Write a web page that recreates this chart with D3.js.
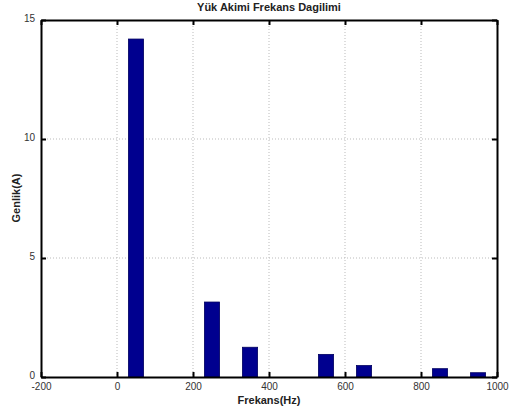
<!DOCTYPE html>
<html><head><meta charset="utf-8">
<script src="https://cdn.jsdelivr.net/npm/d3@7"></script>
<style>body{margin:0;background:#fff}svg{display:block}text{font-family:Arial,"Liberation Sans",sans-serif}</style>
</head><body><svg id="c" width="510" height="416"></svg>
<script>
const freqs = [50, 250, 350, 550, 650, 850, 950];
const amps = [14.2, 3.15, 1.25, 0.95, 0.48, 0.35, 0.18];
const xTicks = [-200, 0, 200, 400, 600, 800, 1000];
const yTicks = [0, 5, 10, 15];
const barWidthHz = 40;

const svg = d3.select("#c");
const L = 41, R = 497, T = 20, B = 377;
const x = d3.scaleLinear().domain([-200, 1000]).range([L, R]);
const y = d3.scaleLinear().domain([0, 15]).range([B, T]);

// grid
const g = svg.append("g");
g.selectAll(".vg").data(xTicks.slice(1, -1)).join("line")
  .attr("x1", d => x(d)).attr("x2", d => x(d)).attr("y1", T).attr("y2", B)
  .attr("stroke", "#bbb").attr("stroke-width", 1).attr("stroke-dasharray", "1,2");
g.selectAll(".hg").data(yTicks.slice(1, -1)).join("line")
  .attr("y1", d => y(d)).attr("y2", d => y(d)).attr("x1", L).attr("x2", R)
  .attr("stroke", "#bbb").attr("stroke-width", 1).attr("stroke-dasharray", "1,2");

// bars
svg.selectAll("rect.bar").data(freqs).join("rect").attr("class", "bar")
  .attr("x", d => x(d - barWidthHz / 2))
  .attr("width", d => x(d + barWidthHz / 2) - x(d - barWidthHz / 2))
  .attr("y", (d, i) => y(amps[i]))
  .attr("height", (d, i) => B - y(amps[i]))
  .attr("fill", "#00008f").attr("stroke", "#000060").attr("stroke-width", 0.8);

const fmt = d => String(d);
// axes (ticks inside)
const axB = svg.append("g").attr("transform", `translate(0,${B})`)
  .call(d3.axisBottom(x).tickValues(xTicks).tickFormat(fmt).tickSizeInner(-5).tickSizeOuter(0).tickPadding(7));
const axT = svg.append("g").attr("transform", `translate(0,${T})`)
  .call(d3.axisTop(x).tickValues(xTicks).tickSizeInner(-5).tickSizeOuter(0).tickFormat(""));
const axL = svg.append("g").attr("transform", `translate(${L},0)`)
  .call(d3.axisLeft(y).tickValues(yTicks).tickFormat(fmt).tickSizeInner(-5).tickSizeOuter(0).tickPadding(6));
const axR = svg.append("g").attr("transform", `translate(${R},0)`)
  .call(d3.axisRight(y).tickValues(yTicks).tickSizeInner(-5).tickSizeOuter(0).tickFormat(""));
[axB, axT, axL, axR].forEach(a => {
  a.select(".domain").attr("stroke", "#000").attr("stroke-width", 2);
  a.selectAll(".tick line").attr("stroke", "#000").attr("stroke-width", 2);
  a.selectAll(".tick text").attr("font-size", 10).attr("fill", "#333")
    .attr("font-family", "Arial, 'Liberation Sans', sans-serif");
});
axB.selectAll(".tick text").attr("dy", "0.55em");
axL.selectAll(".tick text").attr("dy", "0.1em");

svg.append("text").attr("x", 269).attr("y", 11).attr("text-anchor", "middle")
  .attr("font-size", 11).attr("font-weight", "bold").attr("fill", "#222").text("Yük Akimi Frekans Dagilimi");
svg.append("text").attr("x", 269).attr("y", 404).attr("text-anchor", "middle")
  .attr("font-size", 11).attr("font-weight", "bold").attr("fill", "#222").text("Frekans(Hz)");
svg.append("text").attr("transform", "translate(20,198) rotate(-90)").attr("text-anchor", "middle")
  .attr("font-size", 11).attr("font-weight", "bold").attr("fill", "#222").text("Genlik(A)");
</script></body></html>
